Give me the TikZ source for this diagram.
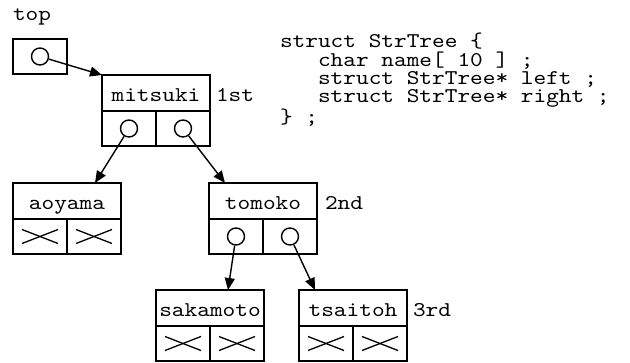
\documentclass[tikz,border=0pt]{standalone}
\usepackage{fontspec}
\newfontfamily\cour{lmmono10-regular.otf}[FakeStretch=1.15]
\usetikzlibrary{arrows.meta}
\begin{document}
\begin{tikzpicture}[x=1pt,y=-1pt,
  txt/.style={font={\cour\fontsize{21}{21}\selectfont}, inner sep=0pt, outer sep=0pt, anchor=base west},
  codeblock/.style={font={\cour\fontsize{21}{18.3}\selectfont}, inner sep=0pt, outer sep=0pt, anchor=base west, align=left},
  hdr/.style={draw, line width=1.7pt, minimum width=108pt, minimum height=36pt, inner sep=0pt, outer sep=0pt,
    anchor=north west, text height=17pt, text depth=0pt, font={\cour\fontsize{21}{21}\selectfont}},
  cell/.style={draw, line width=1.7pt, minimum width=54pt, minimum height=35pt, inner sep=0pt, outer sep=0pt, anchor=north west},
  ptr/.style={circle, draw, line width=1.4pt, minimum size=17pt, inner sep=0pt},
  link/.style={line width=1.4pt, -{Triangle[length=12pt,width=10pt]}},
  nil/.style={line width=1.3pt},
]
\useasboundingbox (0,0) rectangle (630,363);

% top pointer
\node[txt] (toplbl) at (13,21) {top};
\node[cell] (topbox) at (13,39) {};
\node[ptr] (topp) at (topbox.center) {};

% mitsuki
\node[hdr] (mitsuki) at (102,75) {mitsuki};
\node[cell] (mitsukiL) at (mitsuki.south west) {};
\node[cell, anchor=north east] (mitsukiR) at (mitsuki.south east) {};
\node[ptr] (mitsukiLp) at (mitsukiL.center) {};
\node[ptr] (mitsukiRp) at (mitsukiR.center) {};
\node[txt] (lab1) at (216,101.7) {1st};

% aoyama
\node[hdr] (aoyama) at (13,183) {aoyama};
\node[cell] (aoyamaL) at (aoyama.south west) {};
\node[cell, anchor=north east] (aoyamaR) at (aoyama.south east) {};

% tomoko
\node[hdr] (tomoko) at (209,183) {tomoko};
\node[cell] (tomokoL) at (tomoko.south west) {};
\node[cell, anchor=north east] (tomokoR) at (tomoko.south east) {};
\node[ptr] (tomokoLp) at (tomokoL.center) {};
\node[ptr] (tomokoRp) at (tomokoR.center) {};
\node[txt] (lab2) at (325,209.5) {2nd};

% sakamoto
\node[hdr] (sakamoto) at (156,290) {sakamoto};
\node[cell] (sakamotoL) at (sakamoto.south west) {};
\node[cell, anchor=north east] (sakamotoR) at (sakamoto.south east) {};

% tsaitoh
\node[hdr] (tsaitoh) at (299,290) {tsaitoh};
\node[cell] (tsaitohL) at (tsaitoh.south west) {};
\node[cell, anchor=north east] (tsaitohR) at (tsaitoh.south east) {};
\node[txt] (lab3) at (413,316.5) {3rd};

% null crosses
\foreach \c in {aoyamaL,aoyamaR,sakamotoL,sakamotoR,tsaitohL,tsaitohR}{
  \draw[nil] ([shift={(-18,-7)}]\c.center) -- ([shift={(18,7)}]\c.center);
  \draw[nil] ([shift={(-18,7)}]\c.center) -- ([shift={(18,-7)}]\c.center);
}

% arrow targets
\coordinate (inMitsuki) at (mitsuki.north west);
\coordinate (inAoyama) at ([xshift=82pt]aoyama.north west);
\coordinate (inTomoko) at ([xshift=16pt]tomoko.north west);
\coordinate (inSakamoto) at ([xshift=72pt]sakamoto.north west);
\coordinate (inTsaitoh) at ([xshift=16pt]tsaitoh.north west);

\draw[link] (topp) -- (inMitsuki);
\draw[link] (mitsukiLp) -- (inAoyama);
\draw[link] (mitsukiRp) -- (inTomoko);
\draw[link] (tomokoLp) -- (inSakamoto);
\draw[link] (tomokoRp) -- (inTsaitoh);

% struct declaration (base anchor = last line's baseline)
\node[codeblock] (code) at (280,123.2) {struct StrTree \{\\
\phantom{xxx}char name[ 10 ] ;\\
\phantom{xxx}struct StrTree* left ;\\
\phantom{xxx}struct StrTree* right ;\\
\} ;};
\end{tikzpicture}
\end{document}
